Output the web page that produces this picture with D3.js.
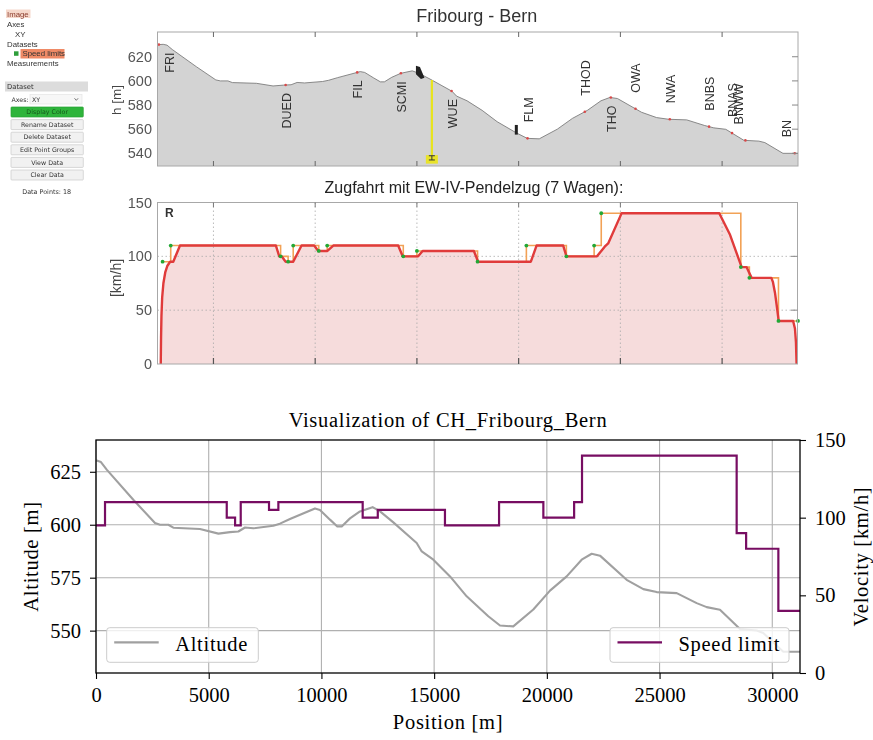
<!DOCTYPE html>
<html><head><meta charset="utf-8">
<script src="https://cdn.jsdelivr.net/npm/d3@7"></script>
<style>body{margin:0;background:#fff}</style>
</head><body><svg id="c" width="873" height="740"></svg>
<script>
// ---------------- DATA ----------------
const altitudePos = [-250, 30, 220, 475, 1655, 2617, 2840, 3210, 3430, 4610, 5430, 5945, 6315, 6610, 6980, 7865, 8160, 8605, 9715, 9935, 10380, 10705, 10900, 11267, 11710, 12270, 12600, 13190, 14225, 14450, 14965, 15705, 16443, 17402, 17921, 18512, 19400, 20140, 20880, 21545, 21989, 22357, 23540, 24280, 24872, 25760, 26647, 27090, 27680, 28568, 29308, 29600, 30490, 31230];
const altitudeVal = [630, 630.3, 629.6, 626, 611.8, 600.8, 600, 600, 598.6, 598, 595.8, 596.5, 596.8, 598.7, 598.3, 599.5, 600.5, 602.7, 607.7, 607, 602.4, 599.2, 599.2, 603, 606.3, 608.3, 606.3, 601.1, 591.4, 587.4, 583.5, 575.6, 566.2, 556.8, 552.4, 552, 560, 568.9, 575.6, 583.5, 586.3, 585.4, 574, 569.6, 568.2, 567.7, 563, 561.1, 559.9, 550.8, 550.1, 548.9, 540, 540];

const limitPos = [0, 400, 5800, 6170, 6420, 7675, 8090, 11830, 12500, 15480, 17880, 19845, 21210, 21560, 28420, 28840, 30270, 31230];
const limitVal = [95, 110, 100, 95, 110, 105, 110, 100, 105, 95, 110, 100, 110, 140, 90, 80, 40, 40];

const runPos = [-90, -75, -55, -20, 40, 130, 230, 370, 525, 855, 5570, 5735, 5850, 6050, 6420, 6830, 7450, 7650, 8100, 8390, 11580, 11800, 12560, 12780, 15300, 15510, 18100, 18380, 19690, 19850, 21350, 21730, 21900, 22560, 27360, 27890, 28460, 28700, 28950, 29920, 30000, 30100, 30200, 30280, 30990, 31080, 31130, 31160];
const runVal = [0, 25, 45, 62, 75, 85, 91, 95, 95, 110, 110, 100, 100, 95, 95, 110, 110, 105, 105, 110, 110, 100, 100, 105, 105, 95, 95, 110, 110, 100, 100, 109, 112, 140, 140, 120, 90, 90, 80, 80, 76, 66, 52, 40, 40, 33, 20, 0];

const stationNames = ['FRI','DUED','FIL','SCMI','WUE','FLM','THOD','THO','OWA','NWA','BNBS','BNAS','BNWW','BN'];
const stationPos = [-180, 6048, 9565, 11712, 14203, 17937, 20752, 22030, 23243, 24928, 26858, 27988, 28646, 31069];
const stationSide = ['below','below','below','below','below','above','above','below','above','above','above','above','above','above'];
const stationLabelShift = [10, 0, 0, 0, 0, 0, 0, 0, 0, 0, 0, 0, -7, -9];

const bottomXTicks = [0, 5000, 10000, 15000, 20000, 25000, 30000];
const altTicks = [550, 575, 600, 625];
const velTicks = [0, 50, 100, 150];
const topXTicks = [2500, 7500, 12500, 17500, 22500, 27500];
const topAltTicks = [540, 560, 580, 600, 620];
const topSpeedTicks = [0, 50, 100, 150];
const topSpeedGrid = [50, 100];

const treeLabels = ['Image','Axes','XY','Datasets','Speed limits','Measurements'];
const buttonLabels = ['Display Color','Rename Dataset','Delete Dataset','Edit Point Groups','View Data','Clear Data'];

// ---------------- HELPERS ----------------
const svg = d3.select('#c');
svg.append('rect').attr('width',873).attr('height',740).attr('fill','#fff');
const altData = altitudePos.map((p,i)=>({p, v: altitudeVal[i]}));
const limData = limitPos.map((p,i)=>({p, v: limitVal[i]}));
const runData = runPos.map((p,i)=>({p, v: runVal[i]}));
const altAt = p => {
  const i = d3.bisector(d=>d.p).right(altData, p);
  if (i<=0) return altData[0].v;
  if (i>=altData.length) return altData[altData.length-1].v;
  const a = altData[i-1], b = altData[i];
  return a.v + (b.v-a.v)*(p-a.p)/(b.p-a.p);
};

const defs = svg.append('defs');
defs.append('filter').attr('id','soft').append('feGaussianBlur').attr('stdDeviation',0.35);

// ---------------- SCREENSHOT: UI PANEL ----------------
const shot = svg.append('g').attr('filter','url(#soft)');
const ui = shot.append('g').attr('font-family','Liberation Sans, Arial, sans-serif');
const treeX = [7, 7, 15, 7, 22.5, 7];
ui.append('rect').attr('x',6).attr('y',9.5).attr('width',24.5).attr('height',8.5).attr('fill','#f6d8cb');
ui.append('rect').attr('x',20.5).attr('y',49).attr('width',44).attr('height',9.5).attr('fill','#ef8a66');
ui.append('rect').attr('x',14).attr('y',51.3).attr('width',4.5).attr('height',4.5).attr('fill','#2f9e3a');
ui.selectAll('text.tree').data(treeLabels).join('text').attr('class','tree')
  .attr('x',(d,i)=>treeX[i]).attr('y',(d,i)=>16.8 + i*9.9)
  .attr('font-size',7.8).attr('fill',(d,i)=> i===0 ? '#8a3b2c' : '#333').text(d=>d);

ui.append('rect').attr('x',5).attr('y',81.5).attr('width',83).attr('height',10).attr('fill','#dcdcdc');
ui.append('text').attr('x',7).attr('y',89).attr('font-size',6.8).attr('font-family','DejaVu Sans').attr('fill','#333').text('Dataset');
ui.append('text').attr('x',11.5).attr('y',101.5).attr('font-size',6.3).attr('font-family','DejaVu Sans').attr('fill','#333').text('Axes:');
ui.append('rect').attr('x',30).attr('y',94.5).attr('width',52).attr('height',9.5).attr('fill','#f7f7f7').attr('stroke','#e2e2e2').attr('stroke-width',0.6);
ui.append('text').attr('x',32).attr('y',101.5).attr('font-size',6.3).attr('font-family','DejaVu Sans').attr('fill','#333').text('XY');
ui.append('path').attr('d','M74.5,98.3 L76.3,100.3 L78.1,98.3').attr('fill','none').attr('stroke','#555').attr('stroke-width',0.8);

const btn = ui.selectAll('g.btn').data(buttonLabels).join('g').attr('class','btn')
  .attr('transform',(d,i)=>`translate(11,${107 + i*12.6})`);
btn.append('rect').attr('width',72.3).attr('height',10).attr('rx',0.8)
  .attr('fill',(d,i)=> i===0 ? '#2fb43a' : '#f1f1f1')
  .attr('stroke',(d,i)=> i===0 ? '#29a033' : '#c9c9c9').attr('stroke-width',0.7);
btn.append('text').attr('x',36.2).attr('y',7.3).attr('text-anchor','middle')
  .attr('font-family','DejaVu Sans').attr('font-size',6.3)
  .attr('fill',(d,i)=> i===0 ? '#14561c' : '#333').text(d=>d);
ui.append('text').attr('x',46.7).attr('y',194).attr('text-anchor','middle').attr('font-family','DejaVu Sans')
  .attr('font-size',6.4).attr('fill','#333').text('Data Points: 18');

// ---------------- SCREENSHOT: PROFILE CHART ----------------
const xT = d3.scaleLinear().domain([-250, 31230]).range([157.5, 798]);
const yTA = d3.scaleLinear().domain([529.5, 640.5]).range([166, 32]);
const prof = shot.append('g').attr('font-family','Liberation Sans, Arial, sans-serif');
defs.append('clipPath').attr('id','clipProf').append('rect').attr('x',157.5).attr('y',32).attr('width',640.5).attr('height',134);
prof.append('text').attr('x',476.7).attr('y',21.5).attr('text-anchor','middle').attr('font-size',18).attr('fill','#333').text('Fribourg - Bern');
prof.append('rect').attr('x',157.5).attr('y',32).attr('width',640.5).attr('height',134).attr('fill','#fff');
const pg = prof.append('g').attr('clip-path','url(#clipProf)');
pg.append('path').datum(altData)
  .attr('d', d3.area().x(d=>xT(d.p)).y0(166).y1(d=>yTA(d.v)))
  .attr('fill','#d3d3d3');
pg.append('path').datum(altData)
  .attr('d', d3.line().x(d=>xT(d.p)).y(d=>yTA(d.v)))
  .attr('fill','none').attr('stroke','#7d7d7d').attr('stroke-width',0.9);
// yellow marker & signals
const markerPos = 13235;
pg.append('line').attr('x1',xT(markerPos)).attr('x2',xT(markerPos)).attr('y1',yTA(altAt(markerPos))).attr('y2',yTA(537.5))
  .attr('stroke','#e8e41a').attr('stroke-width',2.2);
pg.append('rect').attr('x',xT(markerPos)-6).attr('y',yTA(538.5)).attr('width',12).attr('height',8.5).attr('fill','#e9e32a');
pg.append('path').attr('d',`M${xT(markerPos)-3},${yTA(538)} h6 M${xT(markerPos)-3},${yTA(534.5)} h6 M${xT(markerPos)},${yTA(538)} v${yTA(534.5)-yTA(538)}`)
  .attr('stroke','#333').attr('stroke-width',1);
const sig1 = 12550, sig2 = 17386;
pg.append('path').attr('d',`M${xT(sig1)-2},${yTA(612.5)} L${xT(sig1)+2},${yTA(611.5)} L${xT(sig1)+6.5},${yTA(602.5)} L${xT(sig1)+3},${yTA(601.5)} L${xT(sig1)-2},${yTA(605.5)} Z`).attr('fill','#222');
pg.append('rect').attr('x',xT(sig2)-1.5).attr('y',yTA(563.5)).attr('width',3).attr('height',yTA(555.5)-yTA(563.5)).attr('fill','#222');
// station dots + labels
pg.selectAll('circle.st').data(stationPos).join('circle').attr('class','st')
  .attr('cx',d=>xT(d)).attr('cy',d=>yTA(altAt(d))).attr('r',1.3).attr('fill','#d84a4a');
prof.selectAll('text.st').data(stationNames).join('text').attr('class','st')
  .attr('transform',(d,i)=>{
    const x = xT(stationPos[i]) + stationLabelShift[i] + 5;
    const y = yTA(altAt(stationPos[i])) + (stationSide[i]==='below' ? 8 : -16);
    return `translate(${x},${y}) rotate(-90)`;
  })
  .attr('text-anchor',(d,i)=> stationSide[i]==='below' ? 'end' : 'start')
  .attr('font-size',12.5).attr('fill','#333').text(d=>d);
prof.append('rect').attr('x',157.5).attr('y',32).attr('width',640.5).attr('height',134).attr('fill','none').attr('stroke','#a8a8a8').attr('stroke-width',1);
prof.selectAll('line.tt').data(topXTicks).join('line').attr('class','tt')
  .attr('x1',d=>xT(d)).attr('x2',d=>xT(d)).attr('y1',32).attr('y2',37).attr('stroke','#666');
prof.selectAll('line.tb').data(topXTicks).join('line').attr('class','tb')
  .attr('x1',d=>xT(d)).attr('x2',d=>xT(d)).attr('y1',166).attr('y2',161).attr('stroke','#666');
prof.selectAll('line.tr').data(topAltTicks).join('line').attr('class','tr')
  .attr('x1',798).attr('x2',792).attr('y1',d=>yTA(d)).attr('y2',d=>yTA(d)).attr('stroke','#888');
prof.selectAll('text.yl').data(topAltTicks).join('text').attr('class','yl')
  .attr('x',152).attr('y',d=>yTA(d)+5).attr('text-anchor','end').attr('font-size',14.5).attr('fill','#555').text(d=>d);
prof.append('text').attr('transform','translate(120.5,100) rotate(-90)').attr('text-anchor','middle').attr('font-size',13.5).attr('fill','#444').text('h [m]');

// ---------------- SCREENSHOT: SPEED CHART ----------------
const yTS = d3.scaleLinear().domain([0,150]).range([364, 202.5]);
const sp = shot.append('g').attr('font-family','Liberation Sans, Arial, sans-serif');
defs.append('clipPath').attr('id','clipSp').append('rect').attr('x',157.5).attr('y',202.5).attr('width',640).attr('height',161.5);
sp.append('text').attr('x',474).attr('y',192.5).attr('text-anchor','middle').attr('font-size',16).attr('fill','#222').text('Zugfahrt mit EW-IV-Pendelzug (7 Wagen):');
const sg = sp.append('g').attr('clip-path','url(#clipSp)');
sg.append('path').datum(runData).attr('d', d3.area().x(d=>xT(d.p)).y0(yTS(0)).y1(d=>yTS(d.v))).attr('fill','#f6dcdc');
sg.selectAll('line.vg').data(topXTicks).join('line').attr('class','vg')
  .attr('x1',d=>xT(d)).attr('x2',d=>xT(d)).attr('y1',202.5).attr('y2',364)
  .attr('stroke','#aaa').attr('stroke-width',0.8).attr('stroke-dasharray','1.5,2.5');
sg.selectAll('line.hg').data(topSpeedGrid).join('line').attr('class','hg')
  .attr('x1',157.5).attr('x2',797.5).attr('y1',d=>yTS(d)).attr('y2',d=>yTS(d))
  .attr('stroke','#aaa').attr('stroke-width',0.8).attr('stroke-dasharray','1.5,2.5');
sg.append('path').datum(limData).attr('d', d3.line().curve(d3.curveStepAfter).x(d=>xT(d.p)).y(d=>yTS(d.v)))
  .attr('fill','none').attr('stroke','#f2a257').attr('stroke-width',1.6);
sg.append('path').datum(runData).attr('d', d3.line().x(d=>xT(d.p)).y(d=>yTS(d.v)))
  .attr('fill','none').attr('stroke','#e03a3a').attr('stroke-width',2.4).attr('stroke-linejoin','round');
sp.selectAll('circle.lp').data(limData).join('circle').attr('class','lp')
  .attr('cx',d=>xT(d.p)).attr('cy',d=>yTS(d.v)).attr('r',1.9).attr('fill','#22a836');
sp.append('rect').attr('x',157.5).attr('y',202.5).attr('width',640).attr('height',161.5).attr('fill','none').attr('stroke','#a8a8a8').attr('stroke-width',1);
sp.selectAll('line.bt').data(topXTicks).join('line').attr('class','bt')
  .attr('x1',d=>xT(d)).attr('x2',d=>xT(d)).attr('y1',364).attr('y2',358).attr('stroke','#555').attr('stroke-width',1.2);
sp.selectAll('line.tt').data(topXTicks).join('line').attr('class','tt')
  .attr('x1',d=>xT(d)).attr('x2',d=>xT(d)).attr('y1',202.5).attr('y2',207).attr('stroke','#777');
sp.selectAll('line.rt').data(topSpeedGrid).join('line').attr('class','rt')
  .attr('x1',797.5).attr('x2',791).attr('y1',d=>yTS(d)).attr('y2',d=>yTS(d)).attr('stroke','#888');
sp.selectAll('text.yl').data(topSpeedTicks).join('text').attr('class','yl')
  .attr('x',152).attr('y',d=>yTS(d)+5).attr('text-anchor','end').attr('font-size',14.5).attr('fill','#555').text(d=>d);
sp.append('text').attr('x',165).attr('y',216.5).attr('font-size',12).attr('font-weight','bold').attr('fill','#333').text('R');
sp.append('text').attr('transform','translate(121,278) rotate(-90)').attr('text-anchor','middle').attr('font-size',14).attr('fill','#444').text('[km/h]');

// ---------------- BOTTOM MATPLOTLIB CHART ----------------
const L = 96, R = 800, T = 440, B = 673;
const xB = d3.scaleLinear().domain([0, 31230]).range([L, R]);
const yAlt = d3.scaleLinear().domain([530, 640]).range([B, T]);
const yVel = d3.scaleLinear().domain([0, 150]).range([B, T]);
const serif = 'Liberation Serif, Times New Roman, serif';
const bot = svg.append('g').attr('font-family', serif);
defs.append('clipPath').attr('id','clipB').append('rect').attr('x',L).attr('y',T).attr('width',R-L).attr('height',B-T);

// grid
bot.selectAll('line.gx').data(bottomXTicks).join('line').attr('class','gx')
  .attr('x1',d=>xB(d)).attr('x2',d=>xB(d)).attr('y1',T).attr('y2',B).attr('stroke','#b0b0b0').attr('stroke-width',1.1);
bot.selectAll('line.gy').data(altTicks).join('line').attr('class','gy')
  .attr('x1',L).attr('x2',R).attr('y1',d=>yAlt(d)).attr('y2',d=>yAlt(d)).attr('stroke','#b0b0b0').attr('stroke-width',1.1);

const bg = bot.append('g').attr('clip-path','url(#clipB)');
bg.append('path').datum(altData).attr('d', d3.line().x(d=>xB(d.p)).y(d=>yAlt(d.v)))
  .attr('fill','none').attr('stroke','#a0a0a0').attr('stroke-width',2.1).attr('stroke-linejoin','round');
bg.append('path').datum(limData).attr('d', d3.line().curve(d3.curveStepAfter).x(d=>xB(d.p)).y(d=>yVel(d.v)))
  .attr('fill','none').attr('stroke','#770d62').attr('stroke-width',2.2);

// axes
const styleAxis = g => {
  g.select('.domain').remove();
  g.selectAll('.tick line').attr('stroke','#000').attr('stroke-width',1.1);
  g.selectAll('.tick text').attr('font-family',serif).attr('font-size',20.5).attr('fill','#000');
};
bot.append('g').attr('transform',`translate(0,${B})`)
  .call(d3.axisBottom(xB).tickValues(bottomXTicks).tickFormat(d3.format('d')).tickSize(6).tickPadding(8)).call(styleAxis);
bot.append('g').attr('transform',`translate(${L},0)`)
  .call(d3.axisLeft(yAlt).tickValues(altTicks).tickFormat(d3.format('d')).tickSize(6).tickPadding(9)).call(styleAxis);
bot.append('g').attr('transform',`translate(${R},0)`)
  .call(d3.axisRight(yVel).tickValues(velTicks).tickFormat(d3.format('d')).tickSize(6).tickPadding(9)).call(styleAxis);

bot.append('rect').attr('x',L).attr('y',T).attr('width',R-L).attr('height',B-T).attr('fill','none').attr('stroke','#000').attr('stroke-width',1.3);

const ls = 0.7;
bot.append('text').attr('x',(L+R)/2).attr('y',427).attr('text-anchor','middle').attr('font-size',20.5).attr('letter-spacing',ls).text('Visualization of CH_Fribourg_Bern');
bot.append('text').attr('x',(L+R)/2).attr('y',728.5).attr('text-anchor','middle').attr('font-size',20.5).attr('letter-spacing',ls).text('Position [m]');
bot.append('text').attr('transform',`translate(38,${(T+B)/2}) rotate(-90)`).attr('text-anchor','middle').attr('font-size',20.5).attr('letter-spacing',ls).text('Altitude [m]');
bot.append('text').attr('transform',`translate(868,${(T+B)/2}) rotate(-90)`).attr('text-anchor','middle').attr('font-size',20.5).attr('letter-spacing',ls).text('Velocity [km/h]');

// legends
const legend = (x, w, color, label) => {
  const g = bot.append('g');
  g.append('rect').attr('x',x).attr('y',627.7).attr('width',w).attr('height',34.6).attr('rx',3)
    .attr('fill','#fff').attr('fill-opacity',0.8).attr('stroke','#cccccc').attr('stroke-width',1);
  g.append('line').attr('x1',x+7.5).attr('x2',x+52).attr('y1',642.3).attr('y2',642.3).attr('stroke',color).attr('stroke-width',2.2);
  g.append('text').attr('x',x+68.5).attr('y',650.5).attr('font-size',20.5).attr('letter-spacing',ls).text(label);
};
legend(106.7, 151.6, '#a0a0a0', 'Altitude');
legend(610, 179, '#770d62', 'Speed limit');
</script></body></html>
